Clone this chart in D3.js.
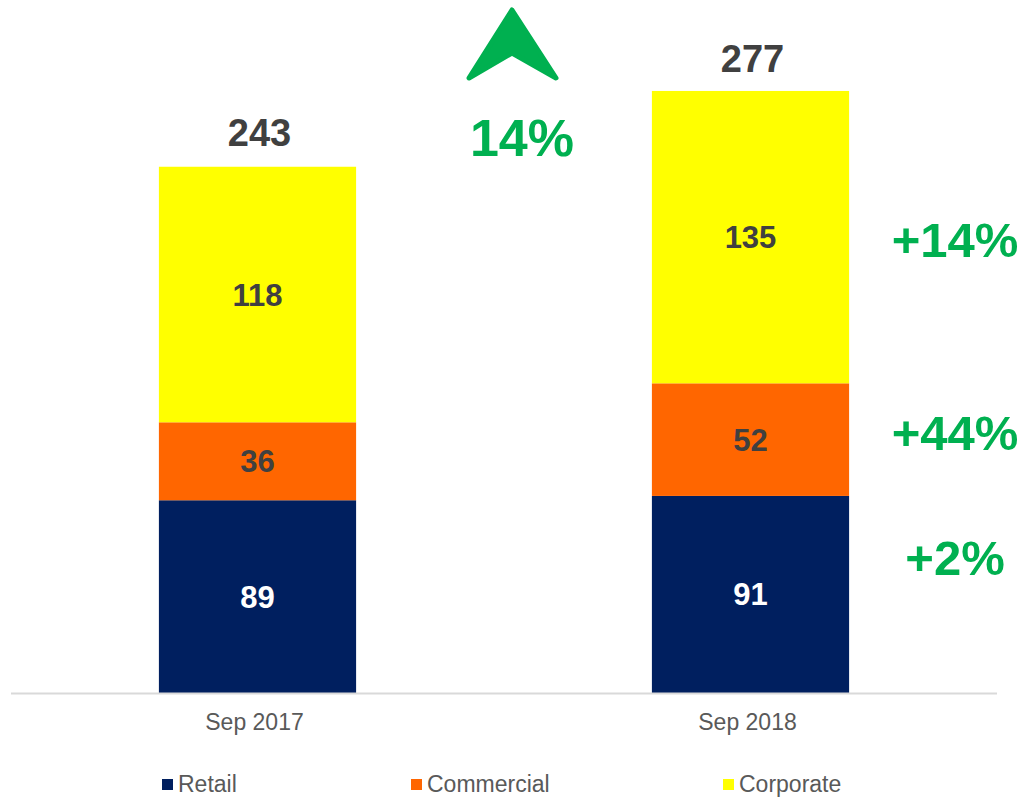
<!DOCTYPE html>
<html>
<head>
<meta charset="utf-8">
<script src="https://cdn.jsdelivr.net/npm/d3@7"></script>
<style>
  body { margin: 0; background: #fff; }
  svg { font-family: "Liberation Sans", Arial, sans-serif; display: block; }
</style>
</head>
<body>
<svg width="1028" height="798"></svg>
<script>
// Data
const periods = ["Sep 2017", "Sep 2018"];
const segments = ["Retail", "Commercial", "Corporate"];
const retail = [89, 91];
const commercial = [36, 52];
const corporate = [118, 135];
const totals = [243, 277];
const segmentGrowth = ["+2%", "+44%", "+14%"]; // Retail, Commercial, Corporate
const totalGrowth = "14%";

const colors = { Retail: "#001f5f", Commercial: "#ff6600", Corporate: "#ffff00" };
const labelColors = { Retail: "#ffffff", Commercial: "#404040", Corporate: "#404040" };
const green = "#00b050";

const rows = periods.map((p, i) => ({
  period: p,
  Retail: retail[i],
  Commercial: commercial[i],
  Corporate: corporate[i],
  total: totals[i]
}));

const svg = d3.select("svg");
const baseY = 693;

// Scales
const x = d3.scaleBand()
  .domain(periods)
  .range([11, 997])
  .paddingInner(0.6)
  .paddingOuter(0.3);

const y = d3.scaleLinear()
  .domain([0, 320])
  .range([baseY, 0]);

const stacked = d3.stack().keys(segments)(rows);

// Bars
const layers = svg.append("g").selectAll("g")
  .data(stacked)
  .join("g")
  .attr("fill", d => colors[d.key]);

layers.selectAll("rect")
  .data(d => d.map(v => Object.assign(v, { key: d.key })))
  .join("rect")
  .attr("x", d => x(d.data.period))
  .attr("y", d => y(d[1]))
  .attr("width", x.bandwidth())
  .attr("height", d => y(d[0]) - y(d[1]));

// Segment labels
layers.selectAll("text")
  .data(d => d)
  .join("text")
  .attr("x", d => x(d.data.period) + x.bandwidth() / 2)
  .attr("y", d => (y(d[0]) + y(d[1])) / 2 + 11)
  .attr("text-anchor", "middle")
  .attr("font-size", 31)
  .attr("font-weight", "bold")
  .attr("fill", d => labelColors[d.key])
  .text(d => d.data[d.key]);

// Totals
svg.append("g").selectAll("text")
  .data(rows)
  .join("text")
  .attr("x", d => x(d.period) + x.bandwidth() / 2 + 2)
  .attr("y", d => y(d.total) - 21)
  .attr("text-anchor", "middle")
  .attr("font-size", 38)
  .attr("font-weight", "bold")
  .attr("fill", "#404040")
  .text(d => d.total);

// Axis line
svg.append("line")
  .attr("x1", 11).attr("x2", 997)
  .attr("y1", baseY + 0.5).attr("y2", baseY + 0.5)
  .attr("stroke", "#d9d9d9")
  .attr("stroke-width", 2);

// X labels
svg.append("g").selectAll("text")
  .data(periods)
  .join("text")
  .attr("x", d => x(d) + x.bandwidth() / 2 - 3)
  .attr("y", 730)
  .attr("text-anchor", "middle")
  .attr("font-size", 23)
  .attr("fill", "#595959")
  .text(d => d);

// Growth arrow + total growth
svg.append("path")
  .attr("d", "M512,10 L556,78 L512,53 L469,78 Z")
  .attr("fill", green)
  .attr("stroke", green)
  .attr("stroke-width", 5)
  .attr("stroke-linejoin", "round");

svg.append("text")
  .attr("x", 522)
  .attr("y", 156)
  .attr("text-anchor", "middle")
  .attr("font-size", 52)
  .attr("font-weight", "bold")
  .attr("fill", green)
  .text(totalGrowth);

// Segment growth labels (right side)
const growthY = [575, 450, 257];
svg.append("g").selectAll("text")
  .data(segmentGrowth)
  .join("text")
  .attr("x", 955)
  .attr("y", (d, i) => growthY[i])
  .attr("text-anchor", "middle")
  .attr("font-size", 49)
  .attr("font-weight", "bold")
  .attr("fill", green)
  .text(d => d);

// Legend
const legendX = [162, 411, 723];
const legend = svg.append("g").selectAll("g")
  .data(segments)
  .join("g")
  .attr("transform", (d, i) => `translate(${legendX[i]},779)`);

legend.append("rect")
  .attr("width", 11)
  .attr("height", 11)
  .attr("fill", d => colors[d]);

legend.append("text")
  .attr("x", 16)
  .attr("y", 13)
  .attr("font-size", 23)
  .attr("fill", "#595959")
  .text(d => d);
</script>
</body>
</html>
